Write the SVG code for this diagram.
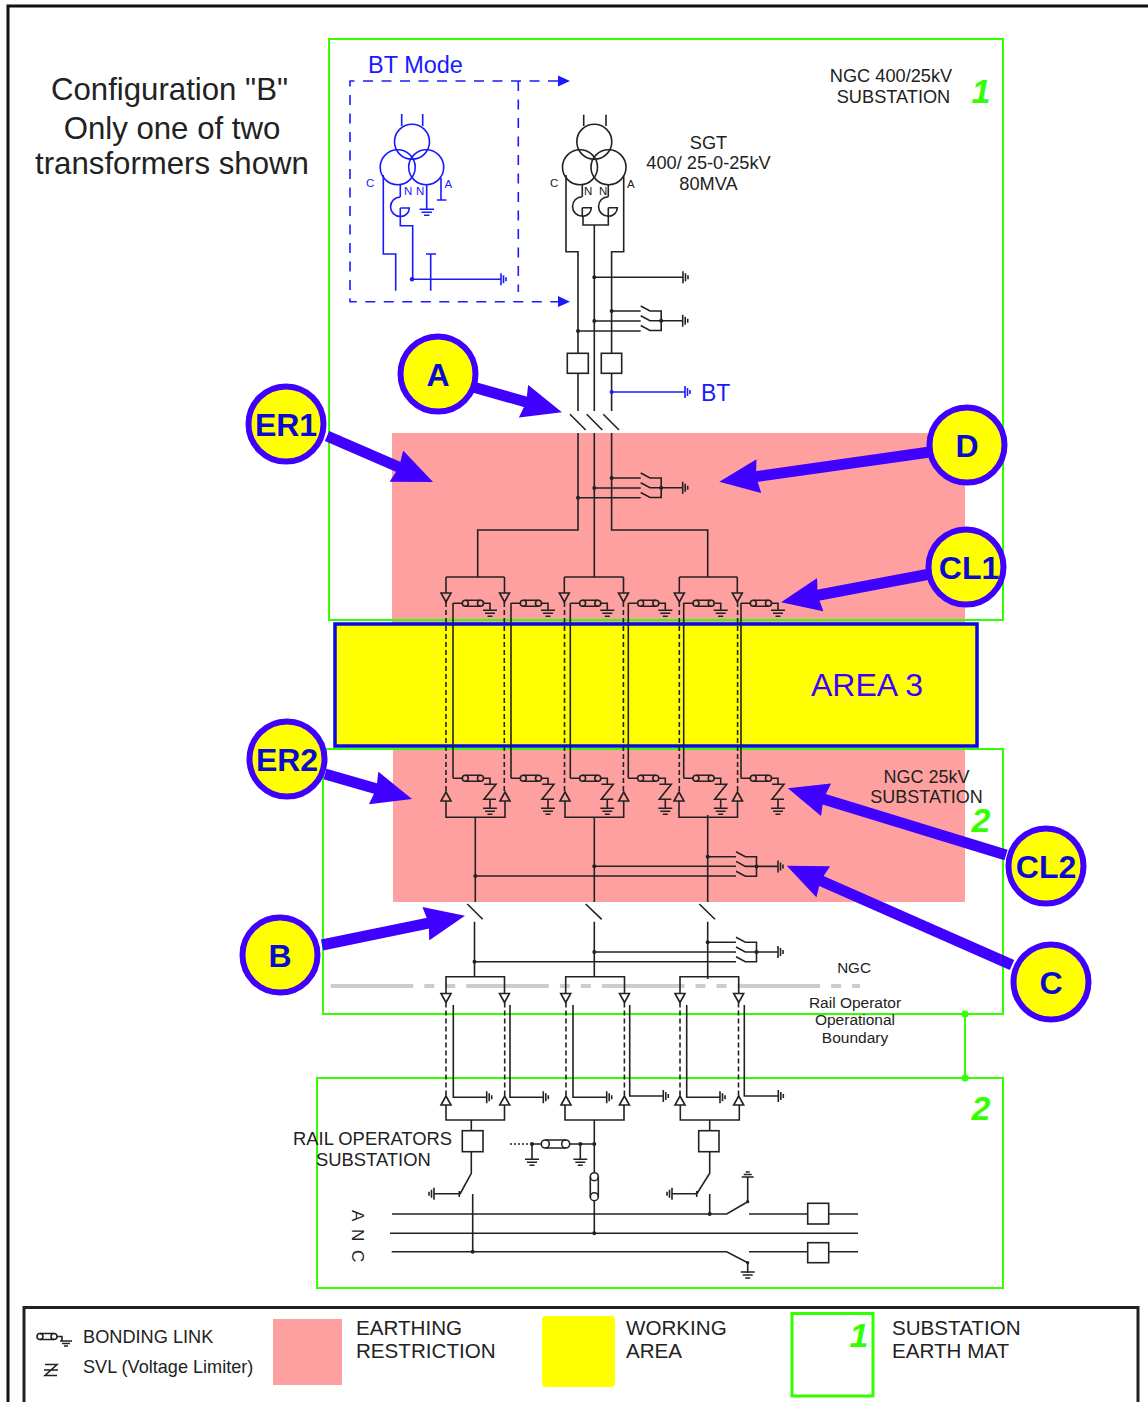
<svg xmlns="http://www.w3.org/2000/svg" width="1148" height="1402" viewBox="0 0 1148 1402">
<style>
text{font-family:"Liberation Sans",Arial,sans-serif;fill:#222}
.c{text-anchor:middle}
.l{stroke:#222;stroke-width:1.6;fill:none}
.b{stroke:#1a1aff;stroke-width:1.6;fill:none}
.d{stroke-dasharray:5 3}
.g{fill:none;stroke:#33ff00;stroke-width:2}
.n{fill:#33ff00;font-weight:bold;font-style:italic;font-size:34px}
.p{fill:#ffa0a0}
.ar{stroke:#3f00ff;stroke-width:11;fill:none;marker-end:url(#ah)}
.cc{fill:#ffff00;stroke:#3f00ff;stroke-width:6}
.ct{fill:#0a0ad0;font-weight:bold;font-size:32px;text-anchor:middle}
.bt{fill:#1a1aff}
.dot{fill:#222;stroke:none}
</style>
<defs>
<marker id="ah" markerUnits="userSpaceOnUse" viewBox="0 0 40 34" refX="20" refY="17" markerWidth="40" markerHeight="34" orient="auto"><path d="M0,0L40,17L0,34L3,17Z" fill="#3f00ff"/></marker>
<g id="eR"><path d="M0,-6V6M2.5,-4V4M5,-2V2"/></g>
<g id="eL"><path d="M0,-6V6M-2.5,-4V4M-5,-2V2"/></g>
<g id="eD"><path d="M-7,0H7M-5,3H5M-2.5,6H2.5"/></g>
<g id="eU"><path d="M-6,0H6M-4,-2.500H4M-2,-5H2"/></g>
<path id="triD" d="M-5,0H5L0,9Z"/>
<path id="triU" d="M-5,9H5L0,0Z"/>
<g id="linkT"><path d="M0,0H9.300M30.500,0H37V7M12.300,-3H27.500M12.300,3H27.500"/><circle cx="12.300" r="3"/><circle cx="27.500" r="3"/><use href="#eD" x="37" y="7"/></g>
<g id="linkB"><path d="M0,0H9.300M30.500,0H37V6M12.300,-3H27.500M12.300,3H27.500M31,6H43L31,21H43M37,21V30"/><circle cx="12.300" r="3"/><circle cx="27.500" r="3"/><use href="#eD" x="37" y="30"/></g>
<g id="esw"><path d="M0,-5L9.300,0H20.500V19.500H9.300L0,14.500M0,4.700L9.300,9.700H42"/><circle cx="20.500" cy="9.700" r="2" class="dot"/><use href="#eR" x="42" y="9.700"/></g>
<g id="xf"><circle cx="0" cy="0" r="17.500"/><circle cx="-14.300" cy="25.600" r="17.500"/><circle cx="14.200" cy="25.600" r="17.500"/></g>
<g id="ct"><path d="M0,0A9.500,9.500 0 0 0 0,19.500M0,11H9A8.500,8.500 0 0 1 0,19.500V11"/></g>
</defs>

<g id="frame"><path d="M8,1402V6H1148" fill="none" stroke="#111" stroke-width="3"/></g>

<g id="restriction-zones">
<rect class="p" x="392" y="433" width="573" height="192"/>
<rect class="p" x="393" y="750" width="572" height="152"/>
</g>
<g id="earth-mats">
<rect class="g" x="329" y="39" width="674" height="581"/>
<rect class="g" x="323" y="749" width="680" height="265"/>
<rect class="g" x="317" y="1078" width="686" height="210"/>
<path d="M965,1014V1078" class="g"/><circle cx="965" cy="1014" r="3.500" fill="#33ff00"/><circle cx="965" cy="1078" r="3.500" fill="#33ff00"/>
</g>
<g id="area3">
<rect x="335" y="624" width="642" height="122" fill="#ffff00" stroke="#0a0ae0" stroke-width="3.500"/>
<text x="867" y="696" font-size="32" class="c" style="fill:#3f00ff">AREA 3</text>
</g>

<g id="title">
<text x="169.500" y="100" class="c" font-size="31.200">Configuration "B"</text>
<text x="172" y="139" class="c" font-size="31.200">Only one of two</text>
<text x="172" y="174" class="c" font-size="31.200">transformers shown</text>
</g>
<g id="labels">
<text x="891" y="82" class="c" font-size="18.200">NGC 400/25kV</text>
<text x="893.500" y="103" class="c" font-size="18.200">SUBSTATION</text>
<text x="981" y="103" class="c n">1</text>
<text x="708.500" y="149" class="c" font-size="18.200">SGT</text>
<text x="708.500" y="169" class="c" font-size="18.200">400/ 25-0-25kV</text>
<text x="708.500" y="190" class="c" font-size="18.200">80MVA</text>
<text x="926.500" y="783" class="c" font-size="18">NGC 25kV</text>
<text x="926.500" y="803" class="c" font-size="18">SUBSTATION</text>
<text x="981" y="832" class="c n">2</text>
<text x="854" y="973" class="c" font-size="15.200">NGC</text>
<text x="855" y="1008" class="c" font-size="15.500">Rail Operator</text>
<text x="855" y="1025" class="c" font-size="15.500">Operational</text>
<text x="855" y="1043" class="c" font-size="15.500">Boundary</text>
<text x="981" y="1120" class="c n">2</text>
<text x="293" y="1145" font-size="18.400">RAIL OPERATORS</text>
<text x="316" y="1166" font-size="18.400">SUBSTATION</text>
<text transform="translate(352,1210) rotate(90)" font-size="17" letter-spacing="2">A N C</text>
</g>

<g id="boundary"><path d="M330.700,986H860" fill="none" stroke="#cccccc" stroke-width="4" stroke-dasharray="82.600 11 10 11 10 11"/></g>

<g id="bt-mode">
<text x="368" y="73" font-size="23.500" class="bt">BT Mode</text>
<path class="b" stroke-dasharray="10 8.500" d="M558,81H350V301.700H558M518.300,81V292"/>
<path d="M558,75.500L570,81L558,86.500ZM558,296L570,301.700L558,307Z" fill="#1a1aff"/>
<path class="b" d="M401.700,114V126M422.700,114V126M383.300,175V254H395.700V290.700M400.300,185V197M400.300,216.500V225.700H412.700V279.300M412.700,279.300H501M426.700,185V209.300M441,178V200M437,200H446.500M430.700,254V290.700M426,254H436M419.500,209.300H434M421.500,212.300H432M424,215.300H429.500"/>
<use href="#xf" x="412" y="141.700" class="b"/>
<use href="#ct" x="400.300" y="197" class="b"/>
<circle cx="412" cy="279.300" r="2.200" fill="#1a1aff"/>
<g class="b"><use href="#eR" x="501" y="279.300"/></g>
<text x="366" y="187" font-size="11.500" class="bt">C</text>
<text x="404" y="195" font-size="11.500" class="bt">N</text>
<text x="416" y="195" font-size="11.500" class="bt">N</text>
<text x="444.500" y="188" font-size="11.500" class="bt">A</text>
</g>

<g id="transformer" class="l">
<use href="#xf" x="594.300" y="141.700"/>
<use href="#ct" x="582.300" y="196.700"/>
<use href="#ct" x="608.300" y="196.700"/>
<path d="M583.700,114.700V126M606,114.700V126M582.300,185V196.700M608.300,185V196.700M583,216V225H608.300V216M566,175V251.700H578V353.300M578,373.300V411M623.700,175V251.700H611.600V353.300M594.300,225V411M611.600,373.300V411"/>
<text x="550" y="187" font-size="11.500" stroke="none">C</text>
<text x="584" y="195" font-size="11.500" stroke="none">N</text>
<text x="599" y="195" font-size="11.500" stroke="none">N</text>
<text x="627" y="188" font-size="11.500" stroke="none">A</text>
</g>

<g id="connectors" class="l">
<path d="M594.300,277.300H683"/><use href="#eR" x="683" y="277.300"/>
<path d="M611.600,311H640.700M594.300,321H640.700M578,331H640.700"/><use href="#esw" x="640.700" y="311"/>
<rect x="567.300" y="353.300" width="21" height="20"/><rect x="601.300" y="353.300" width="20.400" height="20"/>
<path style="stroke:#1a1aff" d="M611.600,392H685"/><g style="stroke:#1a1aff"><use href="#eR" x="685" y="392"/></g><circle cx="611.600" cy="392" r="2" style="fill:#1a1aff;stroke:none"/>
<path d="M570,414.300L585.700,430M586.700,414.300L602.300,430M603.300,414.300L619,430"/>
<path d="M578,433V530H477.700V577M594.300,433V577M611.600,433V530H707.700V577"/>
<path d="M611.600,478H640.700M594.300,488H640.700M578,497.700H640.700"/><use href="#esw" x="640.700" y="478"/>
<path d="M446,577H504.500M564.300,577H623.500M679.300,577H737.300M446,577V593M504.500,577V593M564.300,577V593M623.500,577V593M679.300,577V593M737.300,577V593"/>
<use href="#triD" x="446" y="593"/><use href="#triD" x="504.500" y="593"/><use href="#triD" x="564.300" y="593"/><use href="#triD" x="623.500" y="593"/><use href="#triD" x="679.300" y="593"/><use href="#triD" x="737.300" y="593"/>
<path class="d" d="M446,602V792M504.300,602V792M564.500,602V792M623.400,602V792M679.300,602V792M737.600,602V792"/>
<path d="M453,603V778.300M511,603V778.300M570.300,603V778.300M628.300,603V778.300M683.700,603V778.300M741,603V778.300"/>
<use href="#linkT" x="453" y="603.300"/><use href="#linkT" x="511" y="603.300"/><use href="#linkT" x="570.300" y="603.300"/><use href="#linkT" x="628.300" y="603.300"/><use href="#linkT" x="683.700" y="603.300"/><use href="#linkT" x="741" y="603.300"/>
<use href="#linkB" x="453" y="778.300"/><use href="#linkB" x="511" y="778.300"/><use href="#linkB" x="570.300" y="778.300"/><use href="#linkB" x="628.300" y="778.300"/><use href="#linkB" x="683.700" y="778.300"/><use href="#linkB" x="741" y="778.300"/>
<use href="#triU" x="446" y="792"/><use href="#triU" x="505" y="792"/><use href="#triU" x="565" y="792"/><use href="#triU" x="623.700" y="792"/><use href="#triU" x="679" y="792"/><use href="#triU" x="737.500" y="792"/>
<path d="M446,801V817.300H505V801M565,801V817.300H623.700V801M679,801V817.300H737.500V801M475.300,817.300V902M594.300,817.300V902M707.700,815V902"/>
<path d="M707.700,856.700H736M594.300,866.300H736M475.300,876H736"/><use href="#esw" x="736" y="856.700"/>
<path d="M467.300,904L482.700,919.300M585.700,904L601.700,919.300M699.300,904L715,919.300"/>
<path d="M474.500,921.700V976.700M594.300,921.700V976.700M707.700,921.700V979"/>
<path d="M707.700,942.300H736M594.300,952H736M474.500,961.700H736"/><use href="#esw" x="736" y="942.300"/>
<path d="M446,994V976.700H504.500V994M565.700,994V976.700H624.500V994M680,994V976.700H738.700V994"/>
<use href="#triD" x="446" y="993.500"/><use href="#triD" x="504.500" y="993.500"/><use href="#triD" x="565.700" y="993.500"/><use href="#triD" x="624.500" y="993.500"/><use href="#triD" x="680" y="993.500"/><use href="#triD" x="738.700" y="993.500"/>
<path class="d" d="M446,1002.500V1096M504.700,1002.500V1096M566,1002.500V1096M624.400,1002.500V1096M680,1002.500V1096M738.500,1002.500V1096"/>
<path d="M453.300,1005V1097.300H486.700M510,1005V1097.300H543.300M573,1005V1097.300H606.700M629.700,1005V1096H663.300M686.700,1005V1097.300H720M744.300,1005V1096H778.300"/>
<use href="#eR" x="486.700" y="1097.300"/><use href="#eR" x="543.300" y="1097.300"/><use href="#eR" x="606.700" y="1097.300"/><use href="#eR" x="663.300" y="1096"/><use href="#eR" x="720" y="1097.300"/><use href="#eR" x="778.300" y="1096"/>
<use href="#triU" x="446" y="1096"/><use href="#triU" x="504.700" y="1096"/><use href="#triU" x="566" y="1096"/><use href="#triU" x="624.400" y="1096"/><use href="#triU" x="680" y="1096"/><use href="#triU" x="738.700" y="1096"/>
<path d="M446,1105V1120H504.500V1105M565,1105V1120H624V1105M680.300,1105V1120H739.300V1105"/>
<path d="M471.300,1120V1130.700M471.300,1151.700V1173.300L460,1194M459.300,1191V1197M459.300,1193.700H434M472.700,1194V1251.700"/>
<rect x="462.300" y="1130.700" width="20.700" height="21"/>
<use href="#eL" x="434" y="1193.700"/>
<path d="M594.300,1120V1172.700M594.300,1200.700V1233.300M594.300,1144H569.700M541.300,1144H532V1159.300M580.300,1144V1159.300"/>
<path d="M510,1144H532" stroke-dasharray="2 2"/>
<path d="M545.300,1140H565.700M545.300,1148H565.700"/><circle cx="545.300" cy="1144" r="4"/><circle cx="565.700" cy="1144" r="4"/>
<path d="M590.300,1176.700V1196.700M598.300,1176.700V1196.700"/><circle cx="594.300" cy="1176.700" r="4"/><circle cx="594.300" cy="1196.700" r="4"/>
<use href="#eD" x="532" y="1159.300"/><use href="#eD" x="580.300" y="1159.300"/>
<path d="M709.700,1120V1130.700M709.700,1151.700V1173.300L696.700,1194M696.700,1191V1197M696.700,1193.700H672M709.700,1194V1214"/>
<rect x="698.700" y="1130.700" width="20.300" height="21"/>
<use href="#eL" x="672" y="1193.700"/>
<path d="M392,1214H726.700L747.700,1201.700V1177M749,1214H807.700M829,1214H858M390,1233.300H858M391.700,1251.700H726.700L747.700,1262.700V1273M749,1251.700H807.700M829,1251.700H858"/>
<use href="#eU" x="747.700" y="1177"/><use href="#eD" x="747.700" y="1272"/>
<rect x="807.700" y="1203.300" width="21" height="20.700"/><rect x="807.700" y="1242.700" width="21" height="20"/>
<g>
<circle class="dot" cx="594.300" cy="277.300" r="2"/>
<circle class="dot" cx="611.600" cy="311" r="2"/><circle class="dot" cx="594.300" cy="321" r="2"/><circle class="dot" cx="578" cy="331" r="2"/>
<circle class="dot" cx="611.600" cy="478" r="2"/><circle class="dot" cx="594.300" cy="488" r="2"/><circle class="dot" cx="578" cy="497.700" r="2"/>
<circle class="dot" cx="707.700" cy="856.700" r="2"/><circle class="dot" cx="594.300" cy="866.300" r="2"/><circle class="dot" cx="475.300" cy="876" r="2"/>
<circle class="dot" cx="707.700" cy="942.300" r="2"/><circle class="dot" cx="594.300" cy="952" r="2"/><circle class="dot" cx="474.500" cy="961.700" r="2"/>
<circle class="dot" cx="532" cy="1144" r="2"/><circle class="dot" cx="580.300" cy="1144" r="2"/><circle class="dot" cx="594.300" cy="1144" r="2"/>
<circle class="dot" cx="594.300" cy="1233.300" r="2"/><circle class="dot" cx="709.700" cy="1214" r="2"/><circle class="dot" cx="472.700" cy="1251.700" r="2"/>
<circle class="dot" cx="747.700" cy="1201.700" r="1.600"/><circle class="dot" cx="747.700" cy="1262.700" r="1.600"/>
</g>
<text x="701" y="401" font-size="23" class="bt" stroke="none">BT</text>
</g>

<g id="callout-arrows">
<path class="ar" d="M473,387L542.700,406.700"/>
<path class="ar" d="M327,436L414.700,474"/>
<path class="ar" d="M325,774L392.800,793.500"/>
<path class="ar" d="M322,945L445.400,919.700"/>
<path class="ar" d="M930,452L739.100,479"/>
<path class="ar" d="M930,574L800.700,598.500"/>
<path class="ar" d="M1006,855L807,794"/>
<path class="ar" d="M1012,965L805,873.700"/>
</g>
<g id="node-A"><circle class="cc" cx="438" cy="374" r="37.500"/><text class="ct" x="438" y="386">A</text></g>
<g id="node-ER1"><circle class="cc" cx="286" cy="424" r="37.500"/><text class="ct" x="286" y="436">ER1</text></g>
<g id="node-ER2"><circle class="cc" cx="287" cy="759" r="37.500"/><text class="ct" x="287" y="771">ER2</text></g>
<g id="node-B"><circle class="cc" cx="280" cy="955" r="37.500"/><text class="ct" x="280" y="967">B</text></g>
<g id="node-C"><circle class="cc" cx="1051" cy="982" r="37.500"/><text class="ct" x="1051" y="994">C</text></g>
<g id="node-CL2"><circle class="cc" cx="1046" cy="866" r="37.500"/><text class="ct" x="1046" y="878">CL2</text></g>
<g id="node-CL1"><circle class="cc" cx="966" cy="567" r="37.500"/><text class="ct" x="969" y="579">CL1</text></g>
<g id="node-D"><circle class="cc" cx="967" cy="445" r="37.500"/><text class="ct" x="967" y="457">D</text></g>

<g id="legend">
<path d="M24,1402V1307.500H1138V1402" fill="none" stroke="#222" stroke-width="3"/>
<g class="l"><path d="M40,1333.500H54M40,1339.500H54M57,1336.500H62V1341M60,1341H72M62,1343.500H70M64,1346H68"/><circle cx="40" cy="1336.500" r="3"/><circle cx="54" cy="1336.500" r="3"/>
<path d="M45,1364.500H57L45,1375.500H57M44,1370H58"/></g>
<text x="83" y="1343" font-size="18.200">BONDING LINK</text>
<text x="83" y="1373" font-size="18.100">SVL (Voltage Limiter)</text>
<rect class="p" x="273" y="1319" width="69" height="66"/>
<text x="356" y="1335" font-size="20.600">EARTHING</text>
<text x="356" y="1358" font-size="20.600">RESTRICTION</text>
<rect x="542" y="1316" width="73" height="71" rx="4" fill="#ffff00"/>
<text x="626" y="1335" font-size="20.600">WORKING</text>
<text x="626" y="1358" font-size="20.600">AREA</text>
<rect x="792" y="1313.500" width="81" height="82.500" fill="none" stroke="#33ff00" stroke-width="3"/>
<text x="859" y="1347" class="c n">1</text>
<text x="892" y="1335" font-size="20.600">SUBSTATION</text>
<text x="892" y="1358" font-size="20.600">EARTH MAT</text>
</g>
</svg>
